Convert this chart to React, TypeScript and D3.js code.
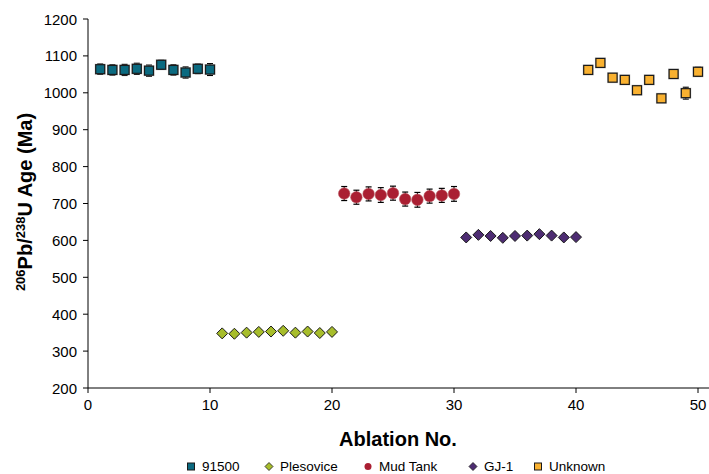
import React from "react";
import * as d3 from "d3";

const ablation91500 = [1, 2, 3, 4, 5, 6, 7, 8, 9, 10];
const age91500 = [1064, 1062, 1062, 1065, 1060, 1076, 1062, 1055, 1065, 1063];
const err91500 = [14, 14, 15, 15, 15, 12, 14, 15, 13, 16];

const ablationPlesovice = [11, 12, 13, 14, 15, 16, 17, 18, 19, 20];
const agePlesovice = [348, 347, 350, 352, 353, 355, 350, 353, 349, 352];
const errPlesovice = [5, 5, 5, 5, 5, 5, 5, 5, 5, 5];

const ablationMudTank = [21, 22, 23, 24, 25, 26, 27, 28, 29, 30];
const ageMudTank = [727, 717, 726, 723, 728, 712, 710, 720, 722, 726];
const errMudTank = [19, 19, 19, 20, 19, 19, 20, 19, 19, 20];

const ablationGJ1 = [31, 32, 33, 34, 35, 36, 37, 38, 39, 40];
const ageGJ1 = [608, 615, 612, 607, 612, 613, 617, 613, 608, 609];
const errGJ1 = [4, 4, 4, 4, 4, 4, 4, 4, 4, 4];

const ablationUnknown = [41, 42, 43, 44, 45, 46, 47, 48, 49, 50];
const ageUnknown = [1062, 1081, 1041, 1035, 1007, 1035, 985, 1051, 999, 1057];
const errUnknown = [6, 6, 6, 6, 5, 7, 5, 10, 16, 12];

const xTicks = [0, 10, 20, 30, 40, 50];
const yTicks = [200, 300, 400, 500, 600, 700, 800, 900, 1000, 1100, 1200];

type Shape = "square" | "diamond" | "circle";
const seriesList = [
  { name: "91500", x: ablation91500, y: age91500, e: err91500, shape: "square" as Shape, color: "#0b6a80" },
  { name: "Plesovice", x: ablationPlesovice, y: agePlesovice, e: errPlesovice, shape: "diamond" as Shape, color: "#a7bd2b" },
  { name: "Mud Tank", x: ablationMudTank, y: ageMudTank, e: errMudTank, shape: "circle" as Shape, color: "#aa1f32" },
  { name: "GJ-1", x: ablationGJ1, y: ageGJ1, e: errGJ1, shape: "diamond" as Shape, color: "#4d2c72" },
  { name: "Unknown", x: ablationUnknown, y: ageUnknown, e: errUnknown, shape: "square" as Shape, color: "#f9b130" },
];

const legendX = [191, 269, 368, 473, 538];

function Marker({ shape, cx, cy, color, size }: { shape: Shape; cx: number; cy: number; color: string; size: number }) {
  if (shape === "square") {
    return (
      <g>
        <rect x={cx - size / 2 - 1} y={cy - size / 2 - 1} width={size + 2} height={size + 2} fill="#999" opacity={0.5} />
        <rect x={cx - size / 2} y={cy - size / 2} width={size} height={size} fill={color} stroke="#1a1a1a" strokeWidth={1.2} />
      </g>
    );
  }
  if (shape === "diamond") {
    const r = size / 2;
    return (
      <path d={`M${cx},${cy - r}L${cx + r},${cy}L${cx},${cy + r}L${cx - r},${cy}Z`} fill={color} stroke="#1a1a1a" strokeWidth={1} />
    );
  }
  return <circle cx={cx} cy={cy} r={size / 2} fill={color} stroke="#b8555f" strokeWidth={0.6} />;
}

export default function App() {
  const W = 709;
  const H = 474;
  const x = d3.scaleLinear().domain([0, 50]).range([88, 698]);
  const y = d3.scaleLinear().domain([200, 1200]).range([388, 19]);
  const font = "'Liberation Sans', Arial, sans-serif";

  return (
    <svg width={W} height={H} style={{ position: "absolute", left: 0, top: 0, background: "#fff" }} fontFamily={font}>
      <rect width={W} height={H} fill="#fff" />
      <line x1={88} x2={709} y1={388} y2={388} stroke="#000" strokeWidth={1} />
      <line x1={88} x2={88} y1={19} y2={388} stroke="#000" strokeWidth={1} />
      {yTicks.map((t) => (
        <g key={"y" + t}>
          <line x1={83} x2={88} y1={y(t)} y2={y(t)} stroke="#000" />
          <text x={77} y={y(t) + 5.5} textAnchor="end" fontSize={15} fill="#000">
            {t}
          </text>
        </g>
      ))}
      {xTicks.map((t) => (
        <g key={"x" + t}>
          <line x1={x(t)} x2={x(t)} y1={388} y2={393} stroke="#000" />
          <text x={x(t)} y={410} textAnchor="middle" fontSize={15} fill="#000">
            {t}
          </text>
        </g>
      ))}
      {seriesList.map((s) => (
        <g key={s.name}>
          {s.x.map((xv, i) => {
            const cx = x(xv);
            const cy = y(s.y[i]);
            const top = y(s.y[i] + s.e[i]);
            const bot = y(s.y[i] - s.e[i]);
            const size = s.shape === "circle" ? 11.5 : s.shape === "diamond" ? 11 : 9;
            return (
              <g key={i}>
                <line x1={cx} x2={cx} y1={top} y2={bot} stroke="#000" strokeWidth={1} />
                <line x1={cx - 3} x2={cx + 3} y1={top} y2={top} stroke="#000" strokeWidth={1.2} />
                <line x1={cx - 3} x2={cx + 3} y1={bot} y2={bot} stroke="#000" strokeWidth={1.2} />
                <Marker shape={s.shape} cx={cx} cy={cy} color={s.color} size={size} />
              </g>
            );
          })}
        </g>
      ))}
      <text x={398} y={446} textAnchor="middle" fontSize={20} fontWeight="bold" fill="#000">
        Ablation No.
      </text>
      <text transform="translate(32,202) rotate(-90)" textAnchor="middle" fontSize={20} fontWeight="bold" fill="#000">
        <tspan fontSize={13} dy={-7}>206</tspan>
        <tspan dy={7}>Pb/</tspan>
        <tspan fontSize={13} dy={-7}>238</tspan>
        <tspan dy={7}>U Age (Ma)</tspan>
      </text>
      {seriesList.map((s, i) => (
        <g key={"leg" + s.name}>
          {s.shape === "square" && (
            <rect x={legendX[i] - 3.5} y={463} width={7} height={7} fill={s.color} stroke="#1a1a1a" strokeWidth={1} />
          )}
          {s.shape === "diamond" && (
            <path d={`M${legendX[i]},${462.5}L${legendX[i] + 4},${466.5}L${legendX[i]},${470.5}L${legendX[i] - 4},${466.5}Z`} fill={s.color} stroke="#1a1a1a" strokeWidth={0.8} />
          )}
          {s.shape === "circle" && <circle cx={legendX[i]} cy={466.5} r={3.5} fill={s.color} />}
          <text x={legendX[i] + 11} y={471} fontSize={13.5} fill="#000">
            {s.name}
          </text>
        </g>
      ))}
    </svg>
  );
}
